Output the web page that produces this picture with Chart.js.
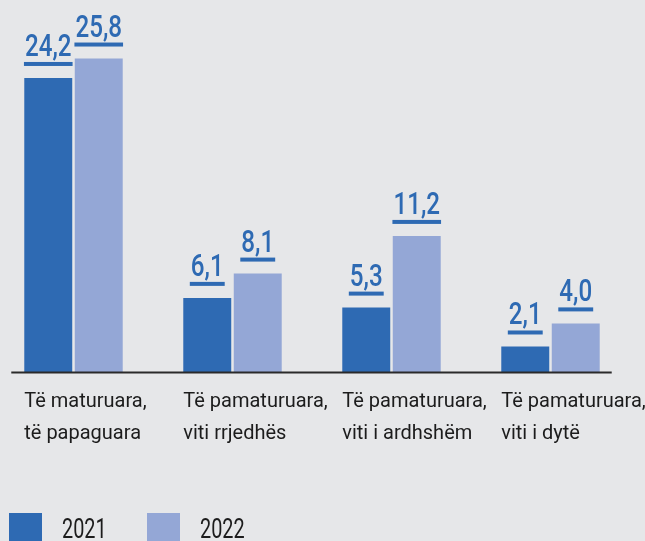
<!DOCTYPE html>
<html>
<head>
<meta charset="utf-8">
<script src="https://cdn.jsdelivr.net/npm/chart.js@4"></script>
<style>
html,body{margin:0;padding:0;background:#e6e7e9;}
#wrap{width:645px;height:541px;position:relative;overflow:hidden;}
#c{position:absolute;left:-16px;top:0;}
</style>
</head>
<body>
<div id="wrap"><canvas id="c" width="661" height="541"></canvas></div>
<script>
const categories = [
  ["Të maturuara,", "të papaguara"],
  ["Të pamaturuara,", "viti rrjedhës"],
  ["Të pamaturuara,", "viti i ardhshëm"],
  ["Të pamaturuara,", "viti i dytë"]
];
const seriesNames = ["2021", "2022"];
const values2021 = [24.2, 6.1, 5.3, 2.1];
const values2022 = [25.8, 8.1, 11.2, 4.0];
const colors = ["#2e6ab3", "#94a7d6"];

const fmt = v => v.toFixed(1).replace('.', ',');

const decor = {
  id: 'decor',
  afterDatasetsDraw(chart) {
    const ctx = chart.ctx;
    const m0 = chart.getDatasetMeta(0).data;
    const m1 = chart.getDatasetMeta(chart.data.datasets.length - 1).data;
    const yBase = chart.scales.y.getPixelForValue(0);
    ctx.save();
    // axis line
    const first = m0[0], last = m1[m1.length - 1];
    ctx.strokeStyle = '#2a2a2a';
    ctx.lineWidth = 2;
    ctx.beginPath();
    ctx.moveTo(first.x - first.width / 2 - 13, yBase + 0.5);
    ctx.lineTo(last.x + last.width / 2 + 12, yBase + 0.5);
    ctx.stroke();
    // value labels
    const sx = 0.78;
    chart.data.datasets.forEach((ds, di) => {
      chart.getDatasetMeta(di).data.forEach((el, i) => {
        const txt = fmt(ds.data[i]);
        ctx.font = '500 31px Roboto, "DejaVu Sans", sans-serif';
        const w = ctx.measureText(txt).width * sx;
        ctx.fillStyle = '#2e6ab3';
        ctx.fillRect(el.x - w / 2 - 1, el.y - 16, w + 2, 4);
        ctx.save();
        ctx.translate(el.x, el.y - 22);
        ctx.scale(sx, 1);
        ctx.textAlign = 'center';
        ctx.textBaseline = 'alphabetic';
        ctx.fillText(txt, 0, 0);
        ctx.restore();
      });
    });
    // category labels
    ctx.fillStyle = '#1c1c1c';
    ctx.font = '20px Roboto, "Liberation Sans", sans-serif';
    ctx.textAlign = 'left';
    ctx.textBaseline = 'alphabetic';
    m0.forEach((el, i) => {
      const x = el.x - el.width / 2;
      categories[i].forEach((line, li) => {
        ctx.fillText(line, x, yBase + 35 + li * 32);
      });
    });
    // legend (positions relative to the chart's left edge)
    const legX = [25, 163];
    chart.data.datasets.forEach((ds, di) => {
      ctx.fillStyle = ds.backgroundColor;
      ctx.fillRect(legX[di], 513, 33, 30);
      ctx.fillStyle = '#1c1c1c';
      ctx.font = '28px Roboto, "DejaVu Sans", sans-serif';
      ctx.save();
      ctx.translate(legX[di] + 53, 538);
      ctx.scale(0.71, 1);
      ctx.textAlign = 'left';
      ctx.fillText(ds.label, 0, 0);
      ctx.restore();
    });
    ctx.restore();
  }
};

new Chart(document.getElementById('c'), {
  type: 'bar',
  data: {
    labels: categories,
    datasets: [
      { label: seriesNames[0], data: values2021, backgroundColor: colors[0] },
      { label: seriesNames[1], data: values2022, backgroundColor: colors[1] }
    ]
  },
  options: {
    responsive: false,
    animation: false,
    devicePixelRatio: 1,
    layout: { padding: { left: 10, right: 15, top: 7.5, bottom: 169 } },
    datasets: { bar: { categoryPercentage: 0.635, barPercentage: 0.95 } },
    plugins: { legend: { display: false }, tooltip: { enabled: false } },
    scales: {
      x: { display: false },
      y: { display: false, min: 0, max: 30 }
    }
  },
  plugins: [decor]
});
</script>
</body>
</html>
